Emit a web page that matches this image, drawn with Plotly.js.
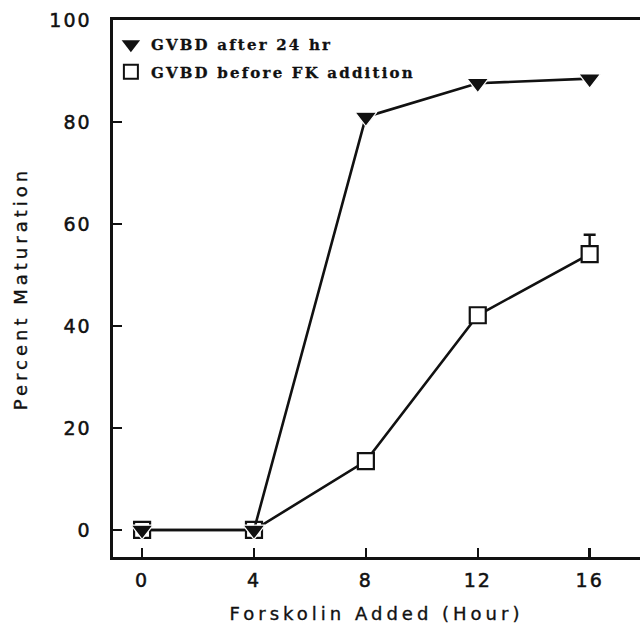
<!DOCTYPE html>
<html>
<head>
<meta charset="utf-8">
<script src="https://cdn.plot.ly/plotly-3.0.1.min.js"></script>
<style>
html, body { margin: 0; padding: 0; background: #fff; overflow: hidden; }
#chart { width: 640px; height: 625px; }
.xtitle, .ytitle { letter-spacing: 4px; stroke: #111; stroke-width: 0.35px; }
.xtick text, .ytick text { letter-spacing: 2px; stroke: #111; stroke-width: 0.5px; }
.legendtext { letter-spacing: 2.2px; stroke: #111; stroke-width: 0.3px; }
</style>
</head>
<body>
<div id="chart"></div>
<script>
// Data
const hours = [0, 4, 8, 12, 16];
const gvbdAfter24 = [0, 0, 81.0, 87.6, 88.5];
const gvbdBeforeFK = [0, 0, 13.5, 42.1, 54.1];
const beforeFKErrUp = [0, 0, 0, 0, 3.8];
const beforeFKErrDown = [0, 0, 0, 0, 0];
const xTicks = [0, 4, 8, 12, 16];
const yTicks = [0, 20, 40, 60, 80, 100];
const seriesNames = ['GVBD after 24 hr', 'GVBD before FK addition'];

const black = '#111';

const traceBefore = {
  x: hours, y: gvbdBeforeFK, name: seriesNames[1], type: 'scatter', mode: 'lines+markers',
  line: {color: black, width: 2.6},
  marker: {symbol: 'square', size: 16, color: '#fff', line: {color: black, width: 2.2}},
  error_y: {type: 'data', symmetric: false, array: beforeFKErrUp, arrayminus: beforeFKErrDown,
            color: black, thickness: 2.4, width: 6},
  showlegend: false
};
const traceAfter = {
  x: hours, y: gvbdAfter24, name: seriesNames[0], type: 'scatter', mode: 'lines+markers',
  line: {color: black, width: 2.6},
  marker: {symbol: 'triangle-down', size: 19, color: black, line: {color: '#fff', width: 1.2}},
  showlegend: false
};
// legend-only entries (markers without lines, like the reference key)
const legendAfter = {
  x: [null], y: [null], name: seriesNames[0], type: 'scatter', mode: 'markers',
  marker: {symbol: 'triangle-down', size: 16, color: black},
  legendrank: 1, legendgroup: 'a'
};
const legendBefore = {
  x: [null], y: [null], name: seriesNames[1], type: 'scatter', mode: 'markers',
  marker: {symbol: 'square', size: 14, color: '#fff', line: {color: black, width: 2}},
  legendrank: 2, legendgroup: 'b'
};

const layout = {
  width: 640, height: 625,
  margin: {l: 113, r: 0, t: 20, b: 68},
  paper_bgcolor: '#fff', plot_bgcolor: '#fff',
  showlegend: true,
  legend: {
    x: -0.004, y: 0.985, xanchor: 'left', yanchor: 'top',
    bgcolor: 'rgba(0,0,0,0)', borderwidth: 0,
    font: {family: 'DejaVu Serif', size: 15, color: black, weight: 'bold'},
    tracegroupgap: 5, traceorder: 'grouped'
  },
  xaxis: {
    range: [-1.04, 17.8], tickvals: xTicks, ticktext: xTicks.map(String),
    ticks: 'inside', ticklen: 9, tickwidth: 2.4, tickcolor: black,
    showline: true, linewidth: 2.6, linecolor: black, mirror: true,
    showgrid: false, zeroline: false,
    ticklabelstandoff: 5,
    tickfont: {family: 'DejaVu Sans', size: 19, color: black},
    title: {text: 'Forskolin Added (Hour)', standoff: 17,
            font: {family: 'DejaVu Sans', size: 18, color: black}}
  },
  yaxis: {
    range: [-5.3, 100], tickvals: yTicks, ticktext: yTicks.map(String),
    ticks: 'inside', ticklen: 9, tickwidth: 2.4, tickcolor: black,
    showline: true, linewidth: 2.6, linecolor: black,
    showgrid: false, zeroline: false,
    ticklabelstandoff: 15,
    tickfont: {family: 'DejaVu Sans', size: 19, color: black},
    title: {text: 'Percent Maturation', standoff: 17,
            font: {family: 'DejaVu Sans', size: 18, color: black}}
  }
};

Plotly.newPlot('chart', [traceBefore, traceAfter, legendAfter, legendBefore], layout,
  {displayModeBar: false, staticPlot: true});
</script>
</body>
</html>
